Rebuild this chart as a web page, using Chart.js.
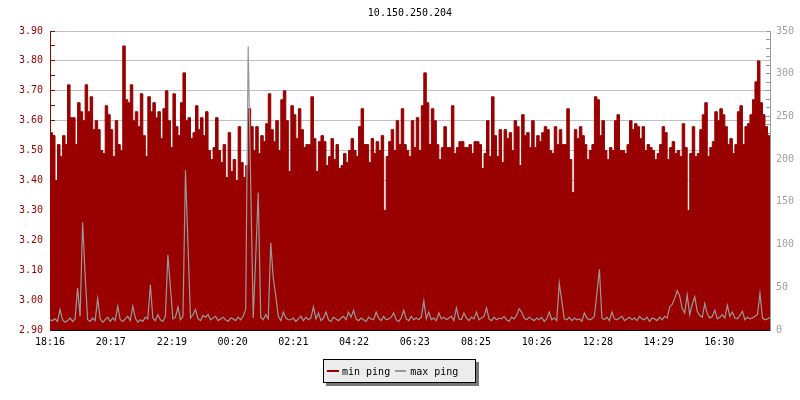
<!DOCTYPE html>
<html>
<head>
<meta charset="utf-8">
<script src="https://cdn.jsdelivr.net/npm/chart.js@4/dist/chart.umd.min.js"></script>
<style>
  html, body { margin: 0; padding: 0; background: #fff; overflow: hidden; }
  #wrap { position: relative; width: 800px; height: 400px; background: #fff; }
  #c { position: absolute; left: 0; top: 0; }
  #title { position: absolute; left: 50px; width: 720px; top: 7px; text-align: center;
           font: 10px 'DejaVu Sans Mono', monospace; color: #000; line-height: 12px; }
  #legend { position: absolute; left: 323px; top: 359px; width: 151px; height: 22px;
            border: 1px solid #000; background: #ececec; box-shadow: 3px 3px 0 #777;
            display: flex; align-items: center; font: 10px 'DejaVu Sans Mono', monospace; color: #000; }
  .mk { display: inline-block; height: 2px; }
</style>
</head>
<body>
<div id="wrap">
  <canvas id="c" width="800" height="400"></canvas>
  <div id="title"></div>
  <div id="legend"></div>
</div>
<script>
// ---- data ----
const chartTitle = '10.150.250.204';
const stepMinutes = 5;
const seriesNames = ['min ping', 'max ping'];
const xTickLabels = ['18:16','20:17','22:19','00:20','02:21','04:22','06:23','08:25','10:26','12:28','14:29','16:30'];
const xTickMinutes = [0,121,243,364,485,606,727,849,970,1092,1213,1334];
const leftTickLabels = ['2.90','3.00','3.10','3.20','3.30','3.40','3.50','3.60','3.70','3.80','3.90'];
const rightTickLabels = ['0','50','100','150','200','250','300','350'];
const leftMinorSteps = 2;
const rightMinorSteps = 5;

const minPing = [
3.56,3.55,3.40,3.52,3.48,3.55,3.52,3.72,3.61,3.61,
3.52,3.66,3.63,3.60,3.72,3.63,3.68,3.57,3.60,3.57,
3.50,3.49,3.65,3.62,3.57,3.48,3.60,3.52,3.50,3.85,
3.67,3.66,3.72,3.60,3.63,3.58,3.69,3.55,3.48,3.68,
3.63,3.66,3.61,3.63,3.54,3.64,3.70,3.60,3.51,3.69,
3.58,3.55,3.66,3.76,3.60,3.61,3.54,3.56,3.65,3.57,
3.61,3.55,3.63,3.50,3.47,3.51,3.61,3.50,3.46,3.52,
3.41,3.56,3.43,3.47,3.40,3.58,3.46,3.41,3.45,3.64,
3.58,3.50,3.58,3.49,3.55,3.53,3.59,3.69,3.57,3.53,
3.60,3.50,3.67,3.70,3.60,3.43,
3.65,3.62,3.54,3.64,3.57,3.51,3.52,3.52,3.68,3.54,
3.43,3.53,3.55,3.53,3.45,3.48,3.54,3.47,3.52,3.44,
3.45,3.49,3.46,3.50,3.54,3.50,3.48,3.58,3.64,3.52,
3.52,3.46,3.54,3.49,3.53,3.50,3.55,3.30,3.48,3.53,
3.57,3.50,3.60,3.52,3.64,3.52,3.50,3.48,3.60,3.51,
3.61,3.50,3.65,3.76,3.66,3.52,3.64,3.60,3.52,3.47,
3.51,3.58,3.51,3.51,3.65,3.49,3.51,3.53,3.53,3.51,
3.51,3.52,3.49,3.53,3.53,3.52,3.44,3.49,3.60,3.48,
3.68,3.55,3.48,3.57,3.46,3.57,3.54,3.56,3.50,3.60,
3.58,3.45,3.62,3.55,3.56,3.51,
3.60,3.51,3.55,3.53,3.56,3.58,3.57,3.50,3.49,3.58,
3.52,3.57,3.52,3.52,3.64,3.47,3.36,3.57,3.54,3.58,
3.55,3.52,3.47,3.50,3.52,3.68,3.67,3.55,3.60,3.50,
3.47,3.51,3.50,3.60,3.62,3.50,3.50,3.49,3.52,3.60,
3.57,3.59,3.58,3.54,3.58,3.50,3.52,3.51,3.50,3.47,
3.49,3.52,3.58,3.56,3.47,3.51,3.53,3.49,3.50,3.48,
3.59,3.51,3.30,3.49,3.58,3.48,3.49,3.57,3.62,3.66,
3.48,3.51,3.53,3.63,3.60,3.64,3.62,3.58,3.52,3.54,
3.49,3.52,3.63,3.65,3.52,3.58,3.59,3.62,3.67,3.73,
3.80,3.66,3.62,3.58,3.55,3.52
];

const maxPing = [
12,11,13,10,24,12,9,11,14,10,
13,49,16,126,65,12,10,14,11,37,
13,9,12,15,10,14,11,28,12,10,
13,16,11,28,14,9,12,10,15,13,
53,14,11,18,12,10,16,88,50,13,
15,27,12,16,187,100,14,18,24,13,
11,17,15,18,12,14,16,11,13,15,
12,10,14,13,11,15,12,16,24,332,
172,14,85,161,15,12,18,13,102,61,
40,16,11,21,14,12,
12,14,10,13,16,11,15,12,14,27,
13,20,11,14,21,12,10,15,13,11,
14,16,12,21,15,23,13,11,14,12,
10,15,13,12,21,14,11,16,12,13,
15,20,12,10,14,23,13,11,16,12,
14,12,15,34,13,21,12,14,11,20,
13,15,12,14,16,11,26,13,12,20,
14,11,15,13,21,12,14,16,26,13,
11,15,12,14,13,16,12,10,15,13,
17,25,21,14,12,15,
13,11,14,12,15,10,13,21,12,14,
11,55,34,13,12,15,11,14,12,13,
10,20,14,12,13,16,43,71,14,12,
15,11,21,13,12,14,16,11,13,15,
12,14,11,16,13,12,15,10,14,13,
11,15,12,16,14,27,30,37,46,40,
25,20,41,18,30,39,22,17,15,31,
19,14,16,23,13,15,18,14,29,16,
21,14,13,17,22,12,15,13,14,16,
18,43,14,12,13,15
];

// ---- styles ----
const RED = '#990000';
const GRAY = '#999999';
const FONT = { family: "'DejaVu Sans Mono', monospace", size: 10 };

document.getElementById('title').textContent = chartTitle;
const lg = document.getElementById('legend');
lg.innerHTML =
  '<span class="mk" style="width:12px;background:' + RED + ';margin-left:3px"></span>' +
  '<span style="margin-left:3px">' + seriesNames[0] + '</span>' +
  '<span class="mk" style="width:11px;background:' + GRAY + ';margin-left:5px"></span>' +
  '<span style="margin-left:4px">' + seriesNames[1] + '</span>';

function withMinor(labels, steps) {
  const vals = labels.map(Number);
  const out = [];
  for (let i = 0; i < vals.length; i++) {
    out.push({ value: vals[i], major: true });
    if (i < vals.length - 1) {
      for (let k = 1; k < steps; k++) {
        out.push({ value: vals[i] + (vals[i + 1] - vals[i]) * k / steps, major: false });
      }
    }
  }
  return out;
}

const xMax = (minPing.length - 1) * stepMinutes;

new Chart(document.getElementById('c'), {
  type: 'line',
  data: {
    datasets: [
      {
        label: seriesNames[1],
        data: maxPing.map((v, i) => ({ x: i * stepMinutes, y: v })),
        yAxisID: 'y1',
        borderColor: GRAY,
        borderWidth: 1.2,
        pointRadius: 0,
        stepped: false,
        tension: 0,
        fill: false,
        order: 1
      },
      {
        label: seriesNames[0],
        data: minPing.map((v, i) => ({ x: i * stepMinutes, y: v })),
        yAxisID: 'y',
        borderColor: RED,
        backgroundColor: RED,
        borderWidth: 1,
        pointRadius: 0,
        stepped: true,
        fill: 'start',
        order: 2
      }
    ]
  },
  options: {
    responsive: false,
    animation: false,
    events: [],
    layout: { padding: { top: 31, left: 0, right: 0, bottom: 0 } },
    plugins: { legend: { display: false }, title: { display: false }, tooltip: { enabled: false } },
    scales: {
      x: {
        type: 'linear',
        position: 'bottom',
        min: 0,
        max: xMax,
        afterFit: s => { s.height = 70; },
        afterBuildTicks: s => { s.ticks = xTickMinutes.map(v => ({ value: v })); },
        ticks: {
          autoSkip: false, maxRotation: 0, color: '#000', font: FONT, padding: 12,
          callback: v => xTickLabels[xTickMinutes.indexOf(v)]
        },
        grid: { drawOnChartArea: false, drawTicks: true, tickLength: -6, tickColor: '#000', tickWidth: 1 },
        border: { display: true, color: '#000', width: 1 }
      },
      y: {
        type: 'linear',
        position: 'left',
        min: Number(leftTickLabels[0]),
        max: Number(leftTickLabels[leftTickLabels.length - 1]),
        afterFit: s => { s.width = 50; },
        afterBuildTicks: s => { s.ticks = withMinor(leftTickLabels, leftMinorSteps); },
        ticks: {
          autoSkip: false, color: RED, font: FONT, padding: 12,
          callback: (v, i, t) => t[i].major ? leftTickLabels[Math.round(i / leftMinorSteps)] : ''
        },
        grid: {
          drawOnChartArea: true, drawTicks: true, tickLength: -5, tickColor: RED,
          color: c => (c.tick && c.tick.major) ? '#c0c0c0' : 'rgba(0,0,0,0)'
        },
        border: { display: true, color: RED, width: 1 }
      },
      y1: {
        type: 'linear',
        position: 'right',
        min: Number(rightTickLabels[0]),
        max: Number(rightTickLabels[rightTickLabels.length - 1]),
        afterFit: s => { s.width = 30; },
        afterBuildTicks: s => { s.ticks = withMinor(rightTickLabels, rightMinorSteps); },
        ticks: {
          autoSkip: false, color: '#a0a0a0', font: FONT, padding: 10,
          callback: (v, i, t) => t[i].major ? rightTickLabels[Math.round(i / rightMinorSteps)] : ''
        },
        grid: { drawOnChartArea: false, drawTicks: true, tickLength: -4, tickColor: GRAY },
        border: { display: true, color: GRAY, width: 1 }
      }
    }
  }
});
</script>
</body>
</html>
